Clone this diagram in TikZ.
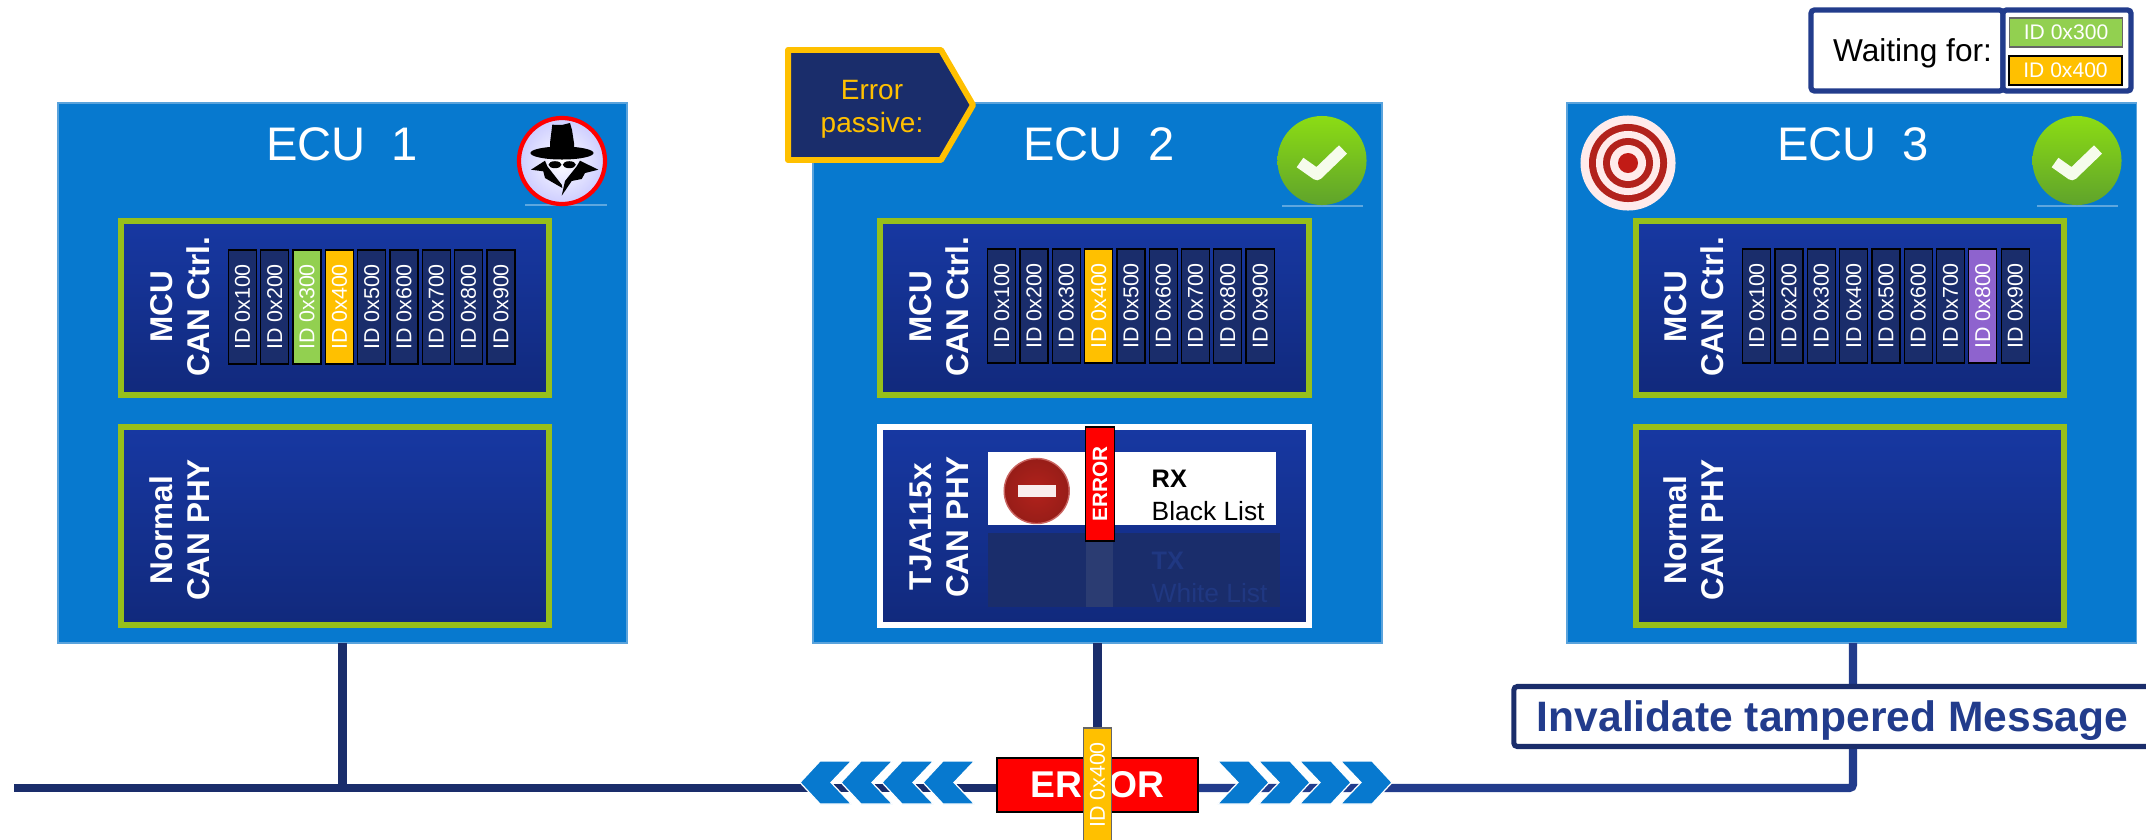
\documentclass[tikz,border=0pt]{standalone}
\usepackage{fontspec}
\setmainfont{Liberation Sans}
\definecolor{ecublue}{RGB}{7,121,207}
\definecolor{ecuedge}{RGB}{90,163,220}
\definecolor{navy}{RGB}{26,45,107}
\definecolor{midnavy}{RGB}{34,60,140}
\definecolor{boxtop}{RGB}{23,56,162}
\definecolor{boxbot}{RGB}{17,41,124}
\definecolor{limeedge}{RGB}{151,191,26}
\definecolor{idgreen}{RGB}{146,208,80}
\definecolor{idorange}{RGB}{255,192,0}
\definecolor{idpurple}{RGB}{142,99,206}
\definecolor{errred}{RGB}{255,0,0}
\definecolor{darkred}{RGB}{178,34,28}
\definecolor{oktop}{RGB}{140,220,20}
\definecolor{okbot}{RGB}{95,163,43}

% green tick with its shadow line
\newcommand{\okicon}[1]{
   \begin{scope}[shift={#1}]
      \fill [white, opacity=.35] (-40,44) rectangle (41,46);
      \shade [top color=oktop, bottom color=okbot] (0,0) circle (.445cm);
      \draw [white!92!oktop, line width=3.3pt, line join=round] (-22,2) -- (-5,14) -- (21,-11);
   \end{scope}
}

\begin{document}
\begin{tikzpicture}[x=.01cm, y=-.01cm, >=stealth,
      ecu/.style={
         % The shape:
         rectangle, minimum width=5.69cm, minimum height=5.40cm, outer sep=0pt,
         % The border
         draw=ecuedge, line width=.4pt, fill=ecublue,
         % Font
         text=white},
      ctrlbox/.style={rectangle, minimum width=4.28cm, line width=1.7pt, draw=limeedge,
         top color=boxtop, bottom color=boxbot, outer sep=0pt},
      idchip/.style={rectangle, rotate=90, minimum width=1.14cm, minimum height=.28cm, inner sep=0pt,
         draw=black, line width=.35pt, text=white,
         font=\fontsize{6.1}{7}\selectfont},
      boxlabel/.style={rotate=90, align=center, text=white, inner sep=0pt,
         font=\bfseries\fontsize{8.95}{10.5}\selectfont},
      ecutitle/.style={text=white, inner sep=0pt, font=\fontsize{13.4}{15}\selectfont},
      bus/.style={line width=2.3pt},
      chevron/.style={fill=ecublue, draw=white, line width=.35pt},
      waitid/.style={rectangle, minimum width=1.13cm, minimum height=.29cm, inner sep=0pt, text=white,
         line width=.4pt, font=\fontsize{6}{7}\selectfont}]
   \useasboundingbox (0,0) rectangle (2146,839);

   % ECU frames
   \node [ecu] (ecuA) at (342.5,373) {};
   \node [ecu] (ecuB) at (1097.5,373) {};
   \node [ecu] (ecuC) at (1851.7,373) {};
   \node [ecutitle] (titleA) at (342,144) {ECU\ \ 1};
   \node [ecutitle] (titleB) at (1099,144) {ECU\ \ 2};
   \node [ecutitle] (titleC) at (1853,144) {ECU\ \ 3};

   % controller and transceiver boxes
   \node [ctrlbox, minimum height=1.74cm] (mcuA) at (335,308) {};
   \node [ctrlbox, minimum height=1.74cm] (mcuB) at (1094.5,308) {};
   \node [ctrlbox, minimum height=1.74cm] (mcuC) at (1850,308) {};
   \node [ctrlbox, minimum height=1.98cm] (phyA) at (335,526) {};
   \node [ctrlbox, minimum height=1.98cm, draw=white] (phyB) at (1094.5,526) {};
   \node [ctrlbox, minimum height=1.98cm] (phyC) at (1850,526) {};

   \node [boxlabel] (mcuAtxt) at (180,307) {MCU\\CAN Ctrl.};
   \node [boxlabel] (mcuBtxt) at (939,307) {MCU\\CAN Ctrl.};
   \node [boxlabel] (mcuCtxt) at (1694,307) {MCU\\CAN Ctrl.};
   \node [boxlabel] (phyAtxt) at (180,530) {Normal\\CAN PHY};
   \node [boxlabel] (phyBtxt) at (939,527) {TJA115x\\CAN PHY};
   \node [boxlabel] (phyCtxt) at (1694,530) {Normal\\CAN PHY};

   % message IDs
   \foreach \i/\f in {1/navy,2/navy,3/idgreen,4/idorange,5/navy,6/navy,7/navy,8/navy,9/navy} {
      \node [idchip, fill=\f] (idA\i) at ({242.5+32.3*(\i-1)},307) {ID 0x\i00};
   };
   \foreach \i/\f in {1/navy,2/navy,3/navy,4/idorange,5/navy,6/navy,7/navy,8/navy,9/navy} {
      \node [idchip, fill=\f] (idB\i) at ({1001.7+32.3*(\i-1)},306) {ID 0x\i00};
   };
   \foreach \i/\f in {1/navy,2/navy,3/navy,4/navy,5/navy,6/navy,7/navy,8/idpurple,9/navy} {
      \node [idchip, fill=\f] (idC\i) at ({1756.7+32.3*(\i-1)},306) {ID 0x\i00};
   };

   % RX and TX filter lists
   \fill [white] (987.6,452) rectangle (1275.5,525);
   \fill [navy] (987.6,533) rectangle (1279.7,607);
   \fill [black!5!navy!92!white] (1085.5,541) rectangle (1113,607);
   \shade [inner color=darkred, outer color=darkred!85!black, draw=darkred!70!white, line width=.4pt] (1036.7,491) circle (.325cm);
   \fill [white!92!darkred] (1017.6,485) rectangle (1056,497);
   \node [rectangle, rotate=90, minimum width=1.14cm, minimum height=.29cm, inner sep=0pt, draw=black, line width=.4pt,
      fill=errred, text=white, font=\bfseries\fontsize{5.9}{7}\selectfont] (rxerr) at (1100,484) {ERROR};
   \node [anchor=west, inner sep=0pt, font=\bfseries\fontsize{7.2}{9}\selectfont] (rxtxt) at (1151,479) {RX};
   \node [anchor=west, inner sep=0pt, font=\fontsize{7.5}{9}\selectfont] (rxlist) at (1151,511) {Black List};
   \node [anchor=west, inner sep=0pt, text=midnavy!70!navy, font=\bfseries\fontsize{7.2}{9}\selectfont] (txtxt) at (1151,561) {TX};
   \node [anchor=west, inner sep=0pt, text=midnavy!70!navy, font=\fontsize{7.5}{9}\selectfont] (txlist) at (1151,593) {White List};

   % icons
   \begin{scope}[shift={(562,161)}]
      \fill [white, opacity=.35] (-37,43) rectangle (45,45);
      \shade [inner color=white, outer color=blue!20!white, draw=red, line width=1.2pt] (0,0) circle (.43cm);
      \fill (-9.7,-36.3) -- (-.3,-36) -- (8,-38) -- (10,-31) -- (12,-18) -- (12,-6) -- (-12,-6) -- (-12,-18) -- cycle;
      \fill (0,-8) ellipse (.315cm and .065cm);
      \fill (-31,8.7) -- (-17,-.3) -- (-14.7,5.3) -- (-.3,23.7) -- (.3,27) -- (-17,17) -- (-18.7,10.3) -- cycle;
      \fill (36.3,8.7) -- (18,-.3) -- (14.7,5.3) -- (3,20) -- (-.3,34.7) -- (9.7,20) -- (19.7,18) -- (23,12) -- cycle;
      \fill (-7,3.7) ellipse (.065cm and .035cm);
      \fill (7.3,3.7) ellipse (.065cm and .035cm);
   \end{scope}
   \okicon{(1322,160.5)}
   \okicon{(2077,160.5)}
   \begin{scope}[shift={(1628,163)}]
      \fill [white!92!red] (0,0) circle (.475cm);
      \fill [darkred] (0,0) circle (.39cm);
      \fill [white!92!red] (0,0) circle (.32cm);
      \fill [darkred] (0,0) circle (.25cm);
      \fill [white!92!red] (0,0) circle (.18cm);
      \fill [darkred!80!red] (0,0) circle (.10cm);
   \end{scope}

   % error passive flag
   \draw [fill=navy, draw=idorange, line width=1.7pt, line join=round]
      (788,50) -- (941,50) -- (973,105) -- (941,160) -- (788,160) -- cycle;
   \node [align=center, text=idorange, inner sep=0pt, font=\fontsize{7.95}{9.4}\selectfont] (passive) at (872,109) {Error\\passive:};

   % waiting list
   \node [rectangle, draw=midnavy, line width=1.5pt, rounded corners=1pt, minimum width=1.92cm, minimum height=.81cm, inner sep=0pt, text depth=0pt,
      fill=white, font=\fontsize{9}{11}\selectfont] (waitlabel) at (1907,50.5) {\hspace{.11cm}Waiting for:};
   \node [rectangle, draw=midnavy, line width=1.5pt, rounded corners=1pt, minimum width=1.28cm, minimum height=.81cm, fill=white] (waitlist) at (2067,50.5) {};
   \node [waitid, fill=idgreen, draw=black!60] (wait300) at (2066,32.5) {ID 0x300};
   \node [waitid, fill=idorange, draw=black] (wait400) at (2065.5,70.5) {ID 0x400};

   % CAN bus
   \coordinate (busstart) at (14,788);
   \coordinate (buscorner) at (1853,788);
   \node [rectangle, fill=errred, draw=black, line width=.4pt, minimum width=2.01cm, minimum height=.54cm, inner sep=0pt,
      text=white, font=\bfseries\fontsize{10.6}{12}\selectfont] (errbus) at (1097.5,785) {ERROR};
   \node [rectangle, rotate=90, fill=idorange, draw=black!60, line width=.4pt, minimum width=1.14cm, minimum height=.28cm, inner sep=0pt,
      text=white, font=\fontsize{6.1}{7}\selectfont] (msg) at (1097.5,785) {ID 0x400};
   \draw [bus, navy] (ecuA.south) -- (ecuA.south |- busstart);
   \draw [bus, navy] (ecuB.south) -- (msg.east);
   \draw [bus, navy] (busstart) -- (errbus.west |- busstart);
   \draw [bus, midnavy, rounded corners=1pt] (errbus.east |- buscorner) -- (buscorner) -- (buscorner |- ecuC.south);
   \foreach \x in {800,841,882,923} {
      \draw [chevron] (\x,782.5) -- ++(20,-21.5) -- ++(31.5,0) -- ++(-20.5,21.5) -- ++(20.5,21.5) -- ++(-31.5,0) -- cycle;
   };
   \foreach \x in {1269,1310,1351,1392} {
      \draw [chevron] (\x,782.5) -- ++(-20,-21.5) -- ++(-31.5,0) -- ++(20.5,21.5) -- ++(-20.5,21.5) -- ++(31.5,0) -- cycle;
   };
   \node [rectangle, draw=navy, line width=1.45pt, rounded corners=1pt, fill=white, minimum width=6.37cm, minimum height=.60cm, inner sep=0pt, text depth=0pt,
      text=midnavy, font=\bfseries\fontsize{12.1}{14}\selectfont] (invalidate) at (1832.5,716.5) {Invalidate tampered Message};
\end{tikzpicture}
\end{document}
